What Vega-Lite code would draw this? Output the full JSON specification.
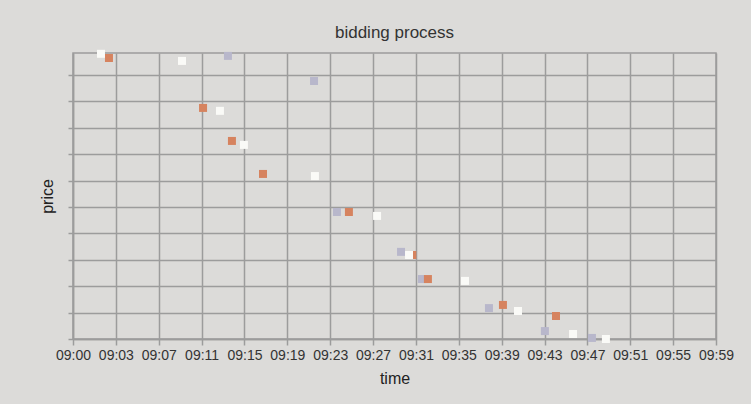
{
  "$schema": "https://vega.github.io/schema/vega-lite/v6.json",
  "autosize": "none",
  "width": 643,
  "height": 286,
  "padding": {"left": 73, "top": 53, "right": 35, "bottom": 65},
  "background": "#dcdbd9",
  "title": {"text": "bidding process", "fontSize": 17, "font": "Liberation Sans", "fontWeight": "normal", "color": "#333333", "anchor": "middle", "offset": 8},
  "data": {"values": [
    {"bidder": "C", "time": "2000-01-01T09:14:13Z", "price": 207.2},
    {"bidder": "C", "time": "2000-01-01T09:22:07Z", "price": 197.7},
    {"bidder": "C", "time": "2000-01-01T09:24:13Z", "price": 148.1},
    {"bidder": "C", "time": "2000-01-01T09:30:06Z", "price": 133.0},
    {"bidder": "C", "time": "2000-01-01T09:32:01Z", "price": 122.7},
    {"bidder": "C", "time": "2000-01-01T09:38:10Z", "price": 111.7},
    {"bidder": "C", "time": "2000-01-01T09:43:18Z", "price": 103.0},
    {"bidder": "C", "time": "2000-01-01T09:47:37Z", "price": 100.4},
    {"bidder": "A", "time": "2000-01-01T09:03:18Z", "price": 206.4},
    {"bidder": "A", "time": "2000-01-01T09:11:56Z", "price": 187.5},
    {"bidder": "A", "time": "2000-01-01T09:14:35Z", "price": 175.0},
    {"bidder": "A", "time": "2000-01-01T09:17:26Z", "price": 162.5},
    {"bidder": "A", "time": "2000-01-01T09:25:19Z", "price": 148.1},
    {"bidder": "A", "time": "2000-01-01T09:31:08Z", "price": 131.8},
    {"bidder": "A", "time": "2000-01-01T09:32:34Z", "price": 122.7},
    {"bidder": "A", "time": "2000-01-01T09:39:27Z", "price": 112.9},
    {"bidder": "A", "time": "2000-01-01T09:44:19Z", "price": 108.7},
    {"bidder": "B", "time": "2000-01-01T09:02:34Z", "price": 208.0},
    {"bidder": "B", "time": "2000-01-01T09:10:00Z", "price": 205.3},
    {"bidder": "B", "time": "2000-01-01T09:13:29Z", "price": 186.4},
    {"bidder": "B", "time": "2000-01-01T09:15:41Z", "price": 173.5},
    {"bidder": "B", "time": "2000-01-01T09:22:12Z", "price": 161.7},
    {"bidder": "B", "time": "2000-01-01T09:27:54Z", "price": 146.6},
    {"bidder": "B", "time": "2000-01-01T09:30:50Z", "price": 131.8},
    {"bidder": "B", "time": "2000-01-01T09:35:58Z", "price": 122.0},
    {"bidder": "B", "time": "2000-01-01T09:40:50Z", "price": 110.6},
    {"bidder": "B", "time": "2000-01-01T09:45:53Z", "price": 101.9},
    {"bidder": "B", "time": "2000-01-01T09:48:54Z", "price": 100.0}
  ]},
  "mark": {"type": "point", "shape": "square", "filled": true, "size": 64, "opacity": 1, "clip": false},
  "encoding": {
    "x": {
      "field": "time", "type": "temporal", "title": "time",
      "scale": {"type": "utc", "domain": [{"year": 2000, "month": 1, "date": 1, "hours": 9, "minutes": 0, "utc": true}, {"year": 2000, "month": 1, "date": 1, "hours": 9, "minutes": 59, "utc": true}], "nice": false},
      "axis": {
        "values": [
          {"year": 2000, "month": 1, "date": 1, "hours": 9, "minutes": 0, "seconds": 0, "utc": true},
          {"year": 2000, "month": 1, "date": 1, "hours": 9, "minutes": 3, "seconds": 56, "utc": true},
          {"year": 2000, "month": 1, "date": 1, "hours": 9, "minutes": 7, "seconds": 52, "utc": true},
          {"year": 2000, "month": 1, "date": 1, "hours": 9, "minutes": 11, "seconds": 48, "utc": true},
          {"year": 2000, "month": 1, "date": 1, "hours": 9, "minutes": 15, "seconds": 44, "utc": true},
          {"year": 2000, "month": 1, "date": 1, "hours": 9, "minutes": 19, "seconds": 40, "utc": true},
          {"year": 2000, "month": 1, "date": 1, "hours": 9, "minutes": 23, "seconds": 36, "utc": true},
          {"year": 2000, "month": 1, "date": 1, "hours": 9, "minutes": 27, "seconds": 32, "utc": true},
          {"year": 2000, "month": 1, "date": 1, "hours": 9, "minutes": 31, "seconds": 28, "utc": true},
          {"year": 2000, "month": 1, "date": 1, "hours": 9, "minutes": 35, "seconds": 24, "utc": true},
          {"year": 2000, "month": 1, "date": 1, "hours": 9, "minutes": 39, "seconds": 20, "utc": true},
          {"year": 2000, "month": 1, "date": 1, "hours": 9, "minutes": 43, "seconds": 16, "utc": true},
          {"year": 2000, "month": 1, "date": 1, "hours": 9, "minutes": 47, "seconds": 12, "utc": true},
          {"year": 2000, "month": 1, "date": 1, "hours": 9, "minutes": 51, "seconds": 8, "utc": true},
          {"year": 2000, "month": 1, "date": 1, "hours": 9, "minutes": 55, "seconds": 4, "utc": true},
          {"year": 2000, "month": 1, "date": 1, "hours": 9, "minutes": 59, "seconds": 0, "utc": true}
        ],
        "labelExpr": "utcFormat(datum.value, '%H:%M')",
        "labelFontSize": 14, "labelPadding": 3, "labelColor": "#333333", "labelOverlap": false, "labelFlush": false,
        "tickSize": 6, "titlePadding": 8, "titleFontSize": 16, "titleFontWeight": "normal", "titleColor": "#222222"
      }
    },
    "y": {
      "field": "price", "type": "quantitative", "title": "price",
      "scale": {"domain": [100, 208.3], "nice": false, "zero": false},
      "axis": {
        "values": [100, 110, 120, 130, 140, 150, 160, 170, 180, 190, 200],
        "labels": false, "tickSize": 5, "titlePadding": 12, "titleFontSize": 16, "titleFontWeight": "normal", "titleColor": "#222222"
      }
    },
    "color": {
      "field": "bidder", "type": "nominal", "legend": null,
      "scale": {"domain": ["A", "B", "C"], "range": ["#d6835f", "#fafaf7", "#b8b7cb"]}
    }
  },
  "config": {
    "font": "Liberation Sans",
    "view": {"stroke": "#9c9c9c", "strokeWidth": 1.5},
    "axis": {"gridColor": "#9c9c9c", "gridWidth": 1.5, "gridOpacity": 1, "domainColor": "#9c9c9c", "domainWidth": 1.5, "tickColor": "#9c9c9c", "tickWidth": 1.5, "labelFont": "Liberation Sans", "titleFont": "Liberation Sans"}
  }
}
